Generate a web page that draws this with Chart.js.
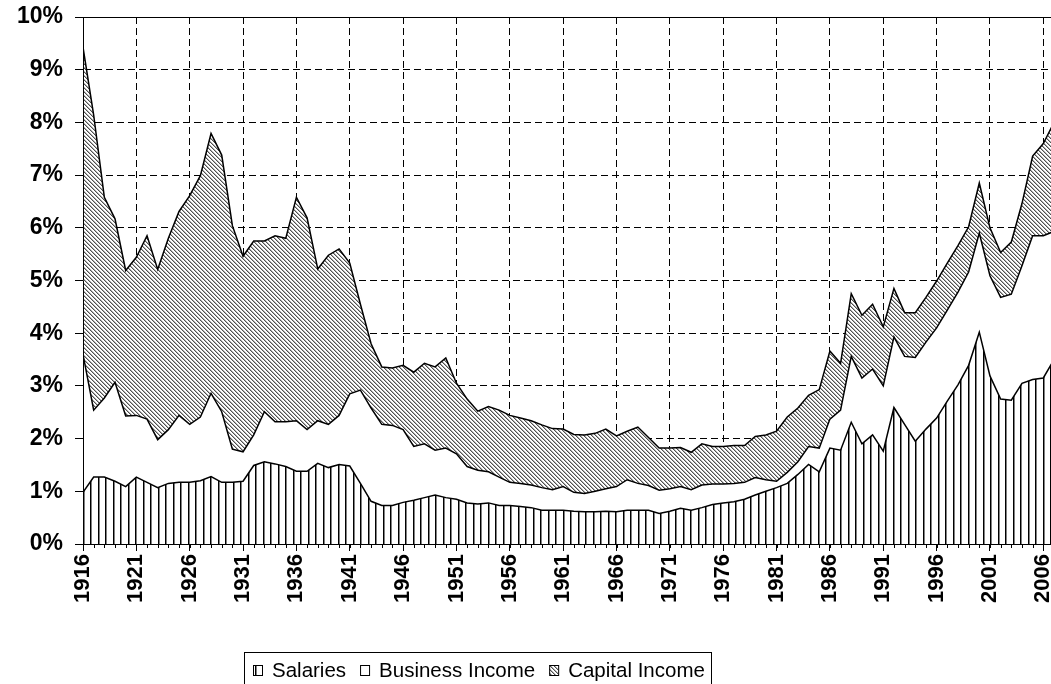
<!DOCTYPE html>
<html>
<head>
<meta charset="utf-8">
<script src="https://cdn.jsdelivr.net/npm/chart.js@4.4.1/dist/chart.umd.min.js"></script>
<style>
  html, body { margin: 0; padding: 0; background: #fff; }
</style>
</head>
<body>
<canvas id="myChart" width="1051" height="684"></canvas>
<script>
const years = [
  1916, 1917, 1918, 1919, 1920, 1921, 1922, 1923, 1924, 1925,
  1926, 1927, 1928, 1929, 1930, 1931, 1932, 1933, 1934, 1935,
  1936, 1937, 1938, 1939, 1940, 1941, 1942, 1943, 1944, 1945,
  1946, 1947, 1948, 1949, 1950, 1951, 1952, 1953, 1954, 1955,
  1956, 1957, 1958, 1959, 1960, 1961, 1962, 1963, 1964, 1965,
  1966, 1967, 1968, 1969, 1970, 1971, 1972, 1973, 1974, 1975,
  1976, 1977, 1978, 1979, 1980, 1981, 1982, 1983, 1984, 1985,
  1986, 1987, 1988, 1989, 1990, 1991, 1992, 1993, 1994, 1995,
  1996, 1997, 1998, 1999, 2000, 2001, 2002, 2003, 2004, 2005,
  2006, 2007,
]

// shares of total income, in %
const salaries = [
  0.98, 1.27, 1.27, 1.19, 1.09, 1.27, 1.17, 1.07, 1.15, 1.17,
  1.17, 1.20, 1.28, 1.17, 1.17, 1.19, 1.49, 1.56, 1.52, 1.47,
  1.38, 1.38, 1.53, 1.45, 1.51, 1.48, 1.15, 0.81, 0.73, 0.73,
  0.79, 0.83, 0.88, 0.93, 0.88, 0.85, 0.78, 0.76, 0.78, 0.73,
  0.73, 0.71, 0.69, 0.64, 0.64, 0.64, 0.62, 0.61, 0.61, 0.62,
  0.61, 0.64, 0.64, 0.64, 0.58, 0.62, 0.68, 0.64, 0.69, 0.75,
  0.78, 0.80, 0.85, 0.93, 1.00, 1.07, 1.15, 1.32, 1.51, 1.37,
  1.82, 1.78, 2.31, 1.90, 2.07, 1.76, 2.59, 2.27, 1.95, 2.18,
  2.39, 2.71, 3.02, 3.39, 4.02, 3.19, 2.75, 2.73, 3.05, 3.12,
  3.15, 3.50,
]

const business = [
  2.62, 1.27, 1.50, 1.88, 1.34, 1.17, 1.20, 0.91, 1.02, 1.27,
  1.10, 1.21, 1.58, 1.34, 0.63, 0.56, 0.58, 0.95, 0.80, 0.85,
  0.96, 0.79, 0.81, 0.82, 0.93, 1.37, 1.77, 1.77, 1.54, 1.52,
  1.38, 1.02, 1.02, 0.85, 0.94, 0.86, 0.69, 0.64, 0.59, 0.54,
  0.44, 0.44, 0.43, 0.43, 0.39, 0.45, 0.36, 0.35, 0.39, 0.43,
  0.48, 0.58, 0.51, 0.47, 0.44, 0.43, 0.41, 0.39, 0.43, 0.39,
  0.36, 0.35, 0.32, 0.33, 0.22, 0.12, 0.21, 0.24, 0.34, 0.45,
  0.55, 0.76, 1.25, 1.25, 1.25, 1.24, 1.34, 1.29, 1.59, 1.65,
  1.71, 1.73, 1.76, 1.77, 1.88, 1.90, 1.93, 2.01, 2.23, 2.73,
  2.70, 2.43,
]

const capital = [
  5.83, 5.60, 3.81, 3.10, 2.76, 3.00, 3.48, 3.23, 3.63, 3.87,
  4.34, 4.58, 4.93, 4.87, 4.24, 3.71, 3.68, 3.24, 3.53, 3.48,
  4.24, 4.02, 2.88, 3.21, 3.16, 2.48, 1.63, 1.22, 1.09, 1.09,
  1.22, 1.41, 1.53, 1.58, 1.71, 1.34, 1.28, 1.12, 1.24, 1.27,
  1.27, 1.24, 1.22, 1.19, 1.16, 1.09, 1.10, 1.11, 1.10, 1.13,
  0.96, 0.92, 1.07, 0.91, 0.80, 0.77, 0.74, 0.71, 0.78, 0.71,
  0.71, 0.72, 0.70, 0.78, 0.85, 0.95, 1.05, 1.02, 0.97, 1.11,
  1.29, 0.89, 1.19, 1.19, 1.23, 1.12, 0.92, 0.83, 0.85, 0.85,
  0.89, 0.89, 0.88, 0.86, 0.95, 0.91, 0.85, 0.99, 1.18, 1.51,
  1.75, 2.07,
]

const labelYears = [1916, 1921, 1926, 1931, 1936, 1941, 1946, 1951, 1956, 1961,
  1966, 1971, 1976, 1981, 1986, 1991, 1996, 2001, 2006]
const yTicks = [0, 1, 2, 3, 4, 5, 6, 7, 8, 9, 10]

const fontFamily = "'Liberation Sans', Arial, sans-serif"

function stripePattern() {
  let c = document.createElement('canvas')
  c.width = 15
  c.height = 4
  let g = c.getContext('2d')
  g.fillStyle = '#fff'
  g.fillRect(0, 0, 15, 4)
  g.fillStyle = '#000'
  g.fillRect(0, 0, 1, 4)
  g.fillRect(8, 0, 1, 4)
  g.fillStyle = '#808080'
  g.fillRect(1, 0, 1, 4)
  g.fillRect(9, 0, 1, 4)
  return g.createPattern(c, 'repeat')
}

function hatchPattern() {
  let c = document.createElement('canvas')
  c.width = 4
  c.height = 4
  let g = c.getContext('2d')
  g.fillStyle = '#fff'
  g.fillRect(0, 0, 4, 4)
  for (let i = 0; i < 4; i++) {
    g.fillStyle = '#505050'
    g.fillRect(i, i, 1, 1)
    g.fillStyle = '#b0b0b0'
    g.fillRect((i + 1) % 4, i, 1, 1)
  }
  return g.createPattern(c, 'repeat')
}

const stripes = stripePattern()
const hatch = hatchPattern()

// solid top line, axis lines on top of the areas, small yearly ticks
const framePlugin = {
  id: 'frame',
  afterDatasetsDraw(chart) {
    const { ctx, chartArea } = chart
    const x = chart.scales.x
    ctx.save()
    ctx.strokeStyle = '#000'
    ctx.lineWidth = 1
    ctx.beginPath()
    ctx.moveTo(chartArea.left, chartArea.top + 0.5)
    ctx.lineTo(chartArea.right, chartArea.top + 0.5)
    ctx.moveTo(chartArea.left + 0.5, chartArea.top)
    ctx.lineTo(chartArea.left + 0.5, chartArea.bottom)
    ctx.moveTo(chartArea.left - 8, chartArea.bottom + 0.5)
    ctx.lineTo(chartArea.right, chartArea.bottom + 0.5)
    years.forEach((yr) => {
      const px = Math.round(x.getPixelForValue(yr)) + 0.5
      if (px > chartArea.right) return
      ctx.moveTo(px, chartArea.bottom)
      ctx.lineTo(px, chartArea.bottom + 4)
    })
    ctx.stroke()
    ctx.restore()
  },
}

// boxed legend under the axis labels
const legendPlugin = {
  id: 'boxLegend',
  afterDraw(chart) {
    const { ctx } = chart
    ctx.save()
    ctx.strokeStyle = '#000'
    ctx.lineWidth = 1
    ctx.strokeRect(244.5, 652.5, 467, 40)
    ctx.font = '20.5px ' + fontFamily
    ctx.textBaseline = 'alphabetic'
    ctx.fillStyle = '#000'
    let px = 253
    chart.data.datasets.forEach((ds) => {
      ctx.fillStyle = ds.backgroundColor
      ctx.fillRect(px, 665, 9, 10)
      ctx.strokeRect(px + 0.5, 665.5, 9, 10)
      ctx.fillStyle = '#000'
      ctx.fillText(ds.label, px + 19, 677)
      px += 19 + ctx.measureText(ds.label).width + 14
    })
    ctx.restore()
  },
}

let myAreaChart = document.getElementById('myChart').getContext('2d')

let chart1 = new Chart(myAreaChart, {
  type: 'line',
  data: {
    labels: years,
    datasets: [
      {
        label: 'Salaries',
        data: salaries,
        backgroundColor: stripes,
        fill: 'origin',
      },
      {
        label: 'Business Income',
        data: business,
        backgroundColor: '#fff',
        fill: '-1',
      },
      {
        label: 'Capital Income',
        data: capital,
        backgroundColor: hatch,
        fill: '-1',
      },
    ],
  },
  options: {
    responsive: false,
    animation: false,
    devicePixelRatio: 1,
    layout: {
      padding: { top: 17, left: 0, right: 0, bottom: 0 },
    },
    elements: {
      line: { tension: 0, borderColor: '#000', borderWidth: 1.5 },
      point: { radius: 0 },
    },
    plugins: {
      legend: { display: false },
      tooltip: { enabled: false },
    },
    scales: {
      x: {
        type: 'linear',
        min: 1916,
        max: 2006.72,
        afterBuildTicks: (s) => {
          s.ticks = labelYears.map((v) => ({ value: v }))
        },
        afterFit: (s) => {
          s.height = 140
          s.paddingLeft = 0
          s.paddingRight = 0
        },
        grid: {
          color: '#000',
          lineWidth: 1,
          tickLength: 7,
          tickColor: '#000',
          tickBorderDash: [],
        },
        border: { display: true, color: '#000', dash: [7, 4] },
        ticks: {
          autoSkip: false,
          minRotation: 90,
          maxRotation: 90,
          padding: 3,
          color: '#000',
          font: { family: fontFamily, size: 22, weight: 'bold' },
          callback: (v) => String(v),
        },
      },
      y: {
        stacked: true,
        min: 0,
        max: 10,
        afterBuildTicks: (s) => {
          s.ticks = yTicks.map((v) => ({ value: v }))
        },
        afterFit: (s) => {
          s.width = 83
          s.paddingTop = 0
          s.paddingBottom = 0
        },
        grid: {
          color: '#000',
          lineWidth: 1,
          tickLength: 8,
          tickColor: '#000',
          tickBorderDash: [],
        },
        border: { display: true, color: '#000', dash: [7, 4] },
        ticks: {
          padding: 12,
          color: '#000',
          font: { family: fontFamily, size: 23, weight: 'bold' },
          callback: (v) => v + '%',
        },
      },
    },
  },
  plugins: [framePlugin, legendPlugin],
})
</script>
</body>
</html>
